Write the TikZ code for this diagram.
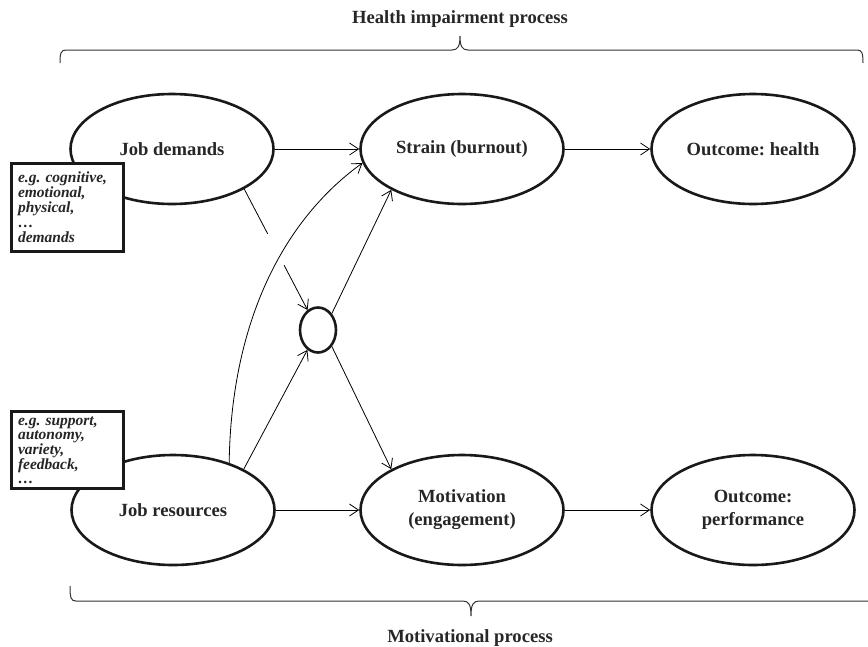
\documentclass[tikz,border=0pt]{standalone}
\usepackage{fontspec}
\setmainfont{Liberation Serif}
\usetikzlibrary{arrows.meta,shapes.geometric}
\begin{document}
\frenchspacing
\hyphenpenalty=10000
\exhyphenpenalty=10000
\begin{tikzpicture}[x=1pt,y=-1pt,
  ell/.style={ellipse,draw=black!90,line width=2.6pt,minimum width=203pt,minimum height=110pt,inner sep=0pt,align=center,font=\fontsize{18.6}{23}\selectfont\bfseries,text=black!85},
  smallell/.style={ellipse,draw=black!90,line width=2.6pt,minimum width=36pt,minimum height=45pt,inner sep=0pt},
  infobox/.style={draw=black!90,line width=3pt,fill=white,anchor=north west,inner xsep=7pt,inner ysep=0pt,align=left,text width=98pt,text=black!85},
  arr/.style={line width=0.8pt,-{Straight Barb[length=9pt,width=12pt]}},
  conn/.style={line width=0.8pt},
  bracestyle/.style={line width=1pt,black!80},
  title/.style={font=\fontsize{18.6}{22}\selectfont\bfseries,text=black!85}]
\useasboundingbox (0,0) rectangle (868,646);
\clip (0,0) rectangle (868,646);

% ellipses
\node[ell] (jd) at (172,149) {Job demands};
\node[ell] (st) at (462,149) {Strain (burnout)};
\node[ell] (oh) at (753,149) {Outcome: health};
\node[ell] (jr) at (173,510) {Job resources};
\node[ell] (mo) at (462,510) {Motivation\\(engagement)};
\node[ell] (op) at (753,510) {Outcome:\\performance};
\node[smallell] (circ) at (318,330) {};

% connectors
\draw[arr] (jd) -- (st);
\draw[arr] (st) -- (oh);
\draw[arr] (jr) -- (mo);
\draw[arr] (mo) -- (op);

\path (jd.-29) -- (circ) coordinate[pos=0.37] (g1) coordinate[pos=0.63] (g2);
\draw[conn] (jd.-29) -- (g1);
\draw[arr] (g2) -- (circ);
\draw[arr] (jr.30) -- (circ);
\draw[arr] (circ.50) -- (st.210);
\draw[arr] (circ.-50) -- (mo.150);
\draw[arr] (jr.40) .. controls (231,330) and (278,224) .. (st.188);

% boxes
\node[infobox,minimum height=88pt,font=\fontsize{15.5}{15}\selectfont\bfseries\itshape] (b1) at (9.5,161.5)
  {e.g. cognitive,\\emotional,\\physical,\\…\\demands};
\node[infobox,minimum height=77pt,font=\fontsize{15.5}{14}\selectfont\bfseries\itshape] (b2) at (9.5,410)
  {e.g. support,\\autonomy,\\variety,\\feedback,\\…};

% braces
\draw[bracestyle] (60,63) .. controls (60,53) and (61,50) .. (66,50) -- (452,50)
  .. controls (458,50) and (460,46) .. (460,36)
  .. controls (460,46) and (462,50) .. (468,50) -- (857,50)
  .. controls (862,50) and (863,53) .. (863,63);
\draw[bracestyle] (70,586) .. controls (70,598) and (71,601) .. (76,601) -- (463,601)
  .. controls (469,601) and (471,605) .. (471,616)
  .. controls (471,605) and (473,601) .. (479,601) -- (900,601);

\node[title] (hip) at (460,19) {Health impairment process};
\node[title,anchor=base] (mp) at (470,642) {Motivational process};
\end{tikzpicture}
\end{document}
